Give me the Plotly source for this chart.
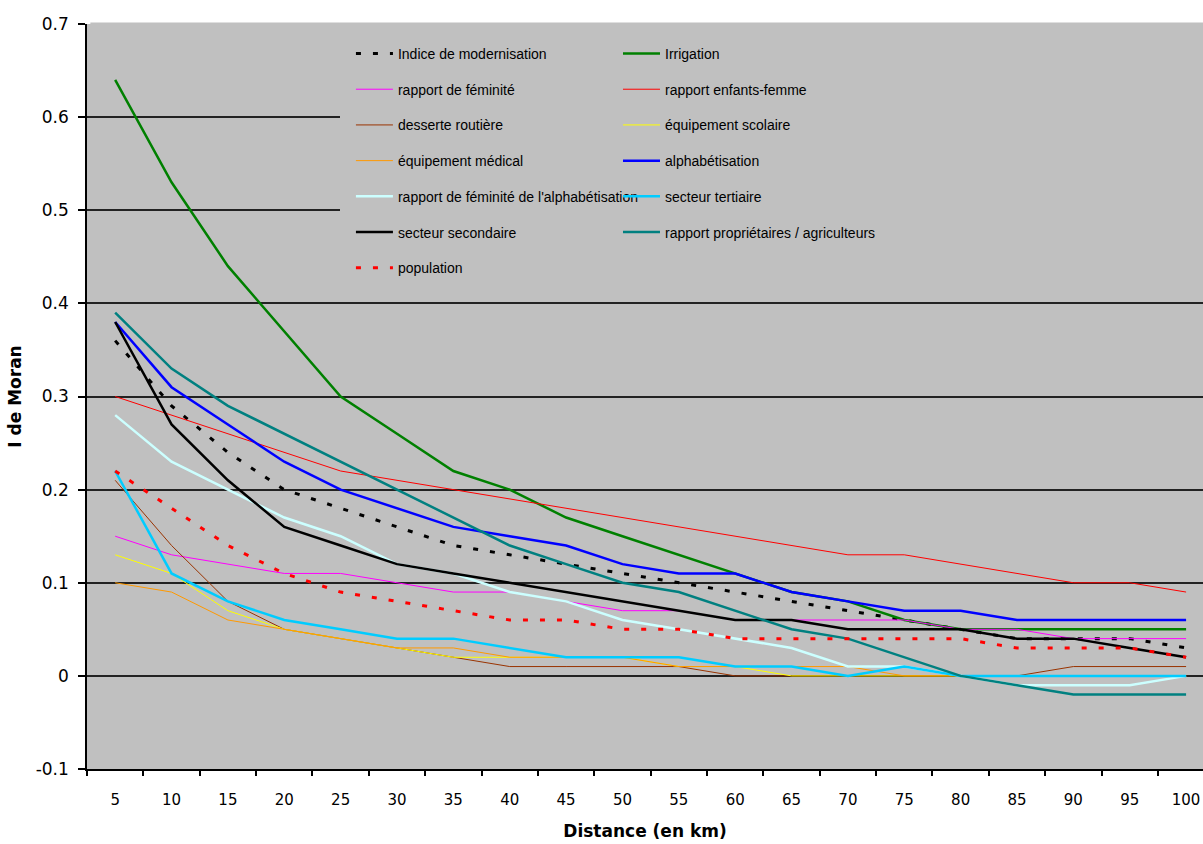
import plotly.graph_objects as go

# I de Moran selon la distance (km)
distances = ["5", "10", "15", "20", "25", "30", "35", "40", "45", "50",
             "55", "60", "65", "70", "75", "80", "85", "90", "95", "100"]

indice_modernisation = [0.36, 0.29, 0.24, 0.20, 0.18, 0.16, 0.14, 0.13, 0.12, 0.11,
                        0.10, 0.09, 0.08, 0.07, 0.06, 0.05, 0.04, 0.04, 0.04, 0.03]
irrigation = [0.64, 0.53, 0.44, 0.37, 0.30, 0.26, 0.22, 0.20, 0.17, 0.15,
              0.13, 0.11, 0.09, 0.08, 0.06, 0.05, 0.05, 0.05, 0.05, 0.05]
rapport_feminite = [0.15, 0.13, 0.12, 0.11, 0.11, 0.10, 0.09, 0.09, 0.08, 0.07,
                    0.07, 0.06, 0.06, 0.06, 0.06, 0.05, 0.05, 0.04, 0.04, 0.04]
rapport_enfants_femme = [0.30, 0.28, 0.26, 0.24, 0.22, 0.21, 0.20, 0.19, 0.18, 0.17,
                         0.16, 0.15, 0.14, 0.13, 0.13, 0.12, 0.11, 0.10, 0.10, 0.09]
desserte_routiere = [0.21, 0.14, 0.08, 0.05, 0.04, 0.03, 0.02, 0.01, 0.01, 0.01,
                     0.01, 0.00, 0.00, 0.00, 0.00, 0.00, 0.00, 0.01, 0.01, 0.01]
equipement_scolaire = [0.13, 0.11, 0.07, 0.05, 0.04, 0.03, 0.02, 0.02, 0.02, 0.02,
                       0.01, 0.01, 0.00, 0.00, 0.00, 0.00, 0.00, 0.00, 0.00, 0.00]
equipement_medical = [0.10, 0.09, 0.06, 0.05, 0.04, 0.03, 0.03, 0.02, 0.02, 0.02,
                      0.01, 0.01, 0.01, 0.01, 0.00, 0.00, 0.00, 0.00, 0.00, 0.00]
alphabetisation = [0.38, 0.31, 0.27, 0.23, 0.20, 0.18, 0.16, 0.15, 0.14, 0.12,
                   0.11, 0.11, 0.09, 0.08, 0.07, 0.07, 0.06, 0.06, 0.06, 0.06]
feminite_alphabetisation = [0.28, 0.23, 0.20, 0.17, 0.15, 0.12, 0.11, 0.09, 0.08, 0.06,
                            0.05, 0.04, 0.03, 0.01, 0.01, 0.00, -0.01, -0.01, -0.01, 0.00]
secteur_tertiaire = [0.22, 0.11, 0.08, 0.06, 0.05, 0.04, 0.04, 0.03, 0.02, 0.02,
                     0.02, 0.01, 0.01, 0.00, 0.01, 0.00, 0.00, 0.00, 0.00, 0.00]
secteur_secondaire = [0.38, 0.27, 0.21, 0.16, 0.14, 0.12, 0.11, 0.10, 0.09, 0.08,
                      0.07, 0.06, 0.06, 0.05, 0.05, 0.05, 0.04, 0.04, 0.03, 0.02]
proprietaires_agriculteurs = [0.39, 0.33, 0.29, 0.26, 0.23, 0.20, 0.17, 0.14, 0.12, 0.10,
                              0.09, 0.07, 0.05, 0.04, 0.02, 0.00, -0.01, -0.02, -0.02, -0.02]
population = [0.22, 0.18, 0.14, 0.11, 0.09, 0.08, 0.07, 0.06, 0.06, 0.05,
              0.05, 0.04, 0.04, 0.04, 0.04, 0.04, 0.03, 0.03, 0.03, 0.02]

y_ticks = [-0.1, 0, 0.1, 0.2, 0.3, 0.4, 0.5, 0.6, 0.7]
y_ticktext = ["-0.1", "0", "0.1", "0.2", "0.3", "0.4", "0.5", "0.6", "0.7"]

DOT = "5px,12px"

# (nom, valeurs, couleur, épaisseur, tirets, légende)
series = [
    ("Indice de modernisation", indice_modernisation, "#000000", 3, DOT, "legend"),
    ("Irrigation", irrigation, "#008000", 2.5, "solid", "legend2"),
    ("rapport de féminité", rapport_feminite, "#ff00ff", 1, "solid", "legend"),
    ("rapport enfants-femme", rapport_enfants_femme, "#ff0000", 1, "solid", "legend2"),
    ("desserte routière", desserte_routiere, "#993300", 1, "solid", "legend"),
    ("équipement scolaire", equipement_scolaire, "#ffff00", 1, "solid", "legend2"),
    ("équipement médical", equipement_medical, "#ff9900", 1, "solid", "legend"),
    ("alphabétisation", alphabetisation, "#0000ff", 2.5, "solid", "legend2"),
    ("rapport de féminité de l'alphabétisation", feminite_alphabetisation, "#ccffff", 2.5, "solid", "legend"),
    ("secteur tertiaire", secteur_tertiaire, "#00ccff", 2.5, "solid", "legend2"),
    ("secteur secondaire", secteur_secondaire, "#000000", 2.5, "solid", "legend"),
    ("rapport propriétaires / agriculteurs", proprietaires_agriculteurs, "#008080", 2.5, "solid", "legend2"),
    ("population", population, "#ff0000", 3, DOT, "legend"),
]

fig = go.Figure()
for i, (name, vals, color, width, dash, leg) in enumerate(series):
    fig.add_trace(go.Scatter(
        x=distances, y=vals, name=name, mode="lines",
        line=dict(color=color, width=width, dash=dash),
        legend=leg, legendgroup="g%d" % i,
    ))

legend_style = dict(
    bgcolor="rgba(0,0,0,0)", borderwidth=0,
    font=dict(family="Liberation Sans, Arial", size=14, color="#000000"),
    itemwidth=37, tracegroupgap=14.5, xanchor="left", yanchor="top",
    itemclick=False, itemdoubleclick=False,
)

x_tick_font = dict(family="DejaVu Sans, Verdana", size=15, color="#000000")
y_tick_font = dict(family="DejaVu Sans, Verdana", size=17, color="#000000")
title_font = dict(family="DejaVu Sans, Verdana", size=17, color="#000000")

fig.update_layout(
    width=1203, height=844,
    margin=dict(l=87, r=0, t=24, b=75),
    paper_bgcolor="#ffffff", plot_bgcolor="#c0c0c0",
    font=dict(family="Liberation Sans, Arial", size=16, color="#000000"),
    showlegend=True, hovermode=False,
    legend=dict(x=0.2365, y=0.9813, **legend_style),
    legend2=dict(x=0.4758, y=0.9813, **legend_style),
    xaxis=dict(
        type="category", range=[-0.5, 19.3], tickson="boundaries", automargin=False,
        showgrid=False, showline=True, linecolor="#000000", linewidth=1.5,
        ticks="outside", ticklen=5, tickcolor="#000000", tickwidth=1.5,
        ticklabelstandoff=16, tickfont=x_tick_font,
        title=dict(text="<b>Distance (en km)</b>", font=title_font, standoff=17),
    ),
    yaxis=dict(
        range=[-0.1, 0.7], tickmode="array", tickvals=y_ticks, ticktext=y_ticktext,
        automargin=False,
        showgrid=True, gridcolor="#222222", gridwidth=1.5, zeroline=False,
        showline=True, linecolor="#000000", linewidth=1.5,
        ticks="outside", ticklen=7, tickcolor="#000000", tickwidth=1.5,
        ticklabelstandoff=6, tickfont=y_tick_font,
        title=dict(text="<b>I de Moran</b>", font=title_font, standoff=10),
    ),
    shapes=[
        # fond de la légende, qui masque le quadrillage
        dict(type="rect", xref="paper", yref="paper", x0=0.2267, x1=1.0, y0=0.64, y1=1.002,
             fillcolor="#c0c0c0", line=dict(width=0), layer="above"),
        dict(type="rect", xref="paper", yref="paper", x0=0.003, x1=0.2267, y0=0.996, y1=1.002,
             fillcolor="#c0c0c0", line=dict(width=0), layer="above"),
    ],
)

# pas de marge autour du graphique dans la page
fig.write_html("out.html", config={"displayModeBar": False},
               post_script="document.body.style.margin='0';document.body.style.overflow='hidden';")
